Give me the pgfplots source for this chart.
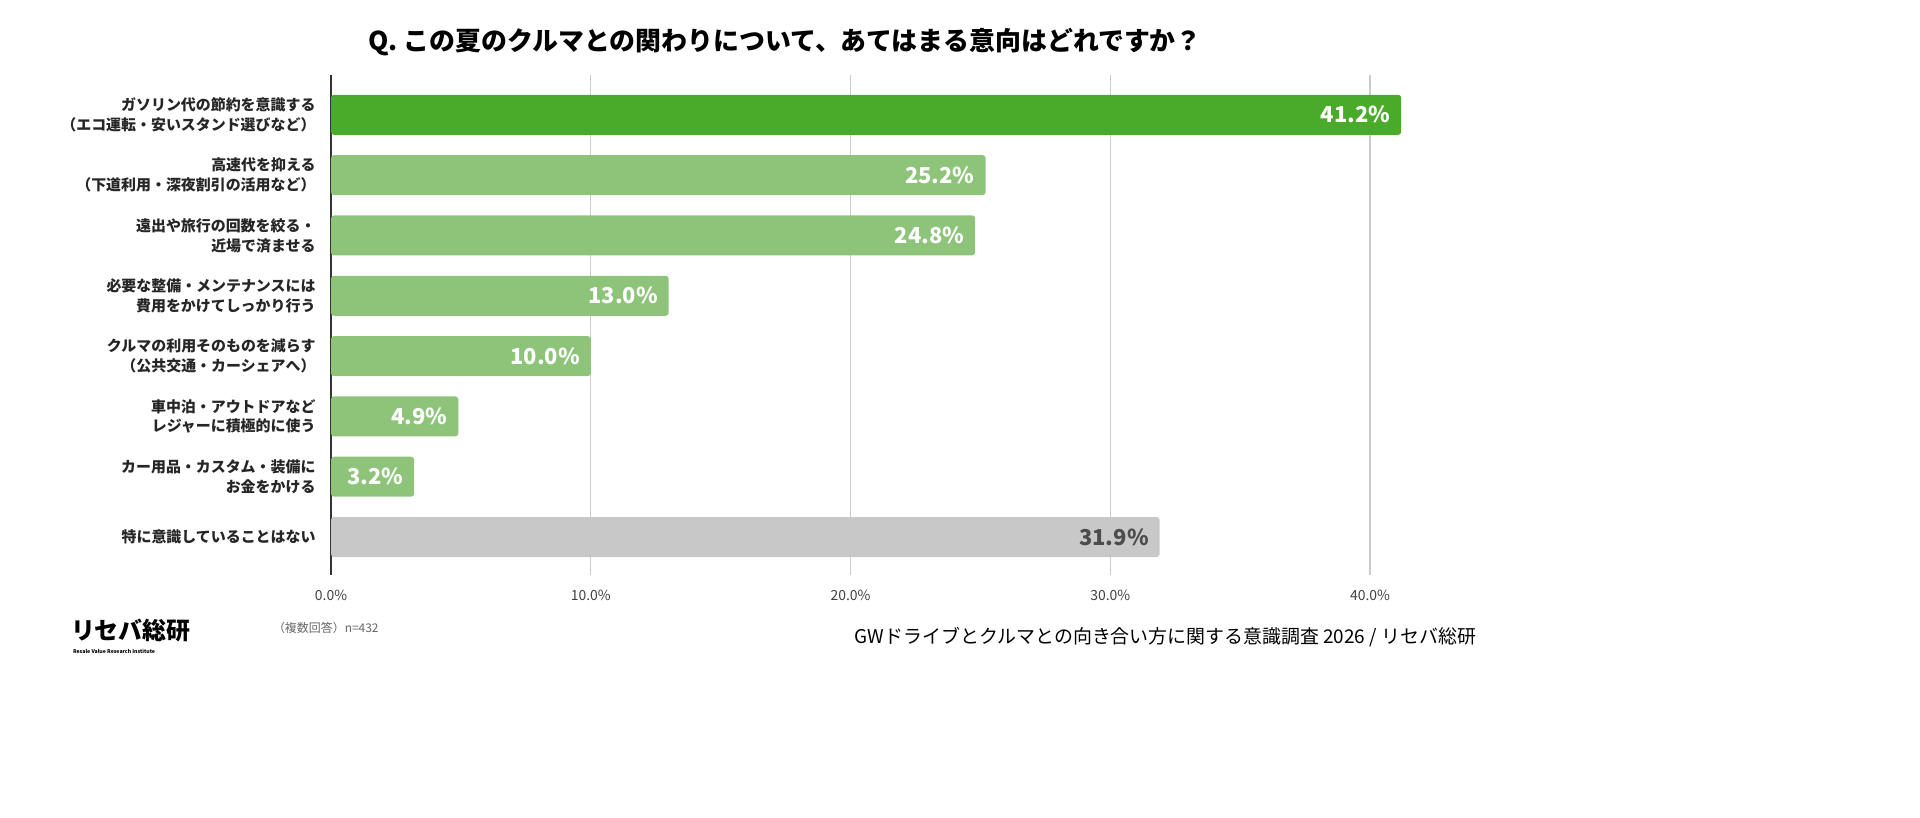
\documentclass[border=0pt]{standalone}
\usepackage{pgfplots}
\pgfplotsset{compat=1.18}
\usepackage{fontspec}
\setmainfont{Noto Sans CJK JP}
\definecolor{topg}{HTML}{4AAA2A}
\definecolor{midg}{HTML}{8EC47A}
\definecolor{grayb}{HTML}{C8C8C8}
\begin{document}
\begin{tikzpicture}[x=1bp,y=1bp]
\useasboundingbox (0,0) rectangle (960,-408.5);
\node[font=\fontsize{13}{15}\selectfont\bfseries] at (392.5,-21) {Q. この夏のクルマとの関わりについて、あてはまる意向はどれですか？};
\begin{axis}[at={(165.5bp,-37.5bp)},anchor=north west,
 scale only axis,width=545.5bp,height=250bp,
 xmin=0,xmax=42,ymin=-0.66,ymax=7.63,y dir=reverse,
 xbar,bar width=20bp,bar shift=0pt,
 axis x line*=bottom, x axis line style={draw=none},
 axis y line*=left, y axis line style={draw=black!80,thick},
 xtick={0,10,20,30,40},xticklabels={0.0\%,10.0\%,20.0\%,30.0\%,40.0\%},
 xmajorgrids,grid style={black!20,line width=0.6bp},
 tick style={draw=none},
 xticklabel style={font=\fontsize{7}{8}\selectfont,text=black!75,yshift=-4bp},
 ytick={0,...,7},
 yticklabels={{ガソリン代の節約を意識する\\（エコ運転・安いスタンド選びなど）},{高速代を抑える\\（下道利用・深夜割引の活用など）},{遠出や旅行の回数を絞る・\\近場で済ませる},{必要な整備・メンテナンスには\\費用をかけてしっかり行う},{クルマの利用そのものを減らす\\（公共交通・カーシェアへ）},{車中泊・アウトドアなど\\レジャーに積極的に使う},{カー用品・カスタム・装備に\\お金をかける},{特に意識していることはない}},
 yticklabel style={font=\fontsize{7.5}{10}\selectfont\bfseries,align=right,text=black!85},
 nodes near coords={\pgfmathprintnumber[fixed,fixed zerofill,precision=1,assume math mode=true]{\pgfplotspointmeta}\%},
 point meta=explicit,
 nodes near coords style={anchor=east,font=\fontsize{11}{12}\selectfont\bfseries,text=white,xshift=-2bp},
]
\addplot[fill=topg,draw=none,rounded corners=1.5bp] coordinates {(41.2,0)[41.2]};
\addplot[fill=midg,draw=none,rounded corners=1.5bp] coordinates {(25.2,1)[25.2] (24.8,2)[24.8] (13.0,3)[13.0] (10.0,4)[10.0] (4.9,5)[4.9] (3.2,6)[3.2]};
\addplot[fill=grayb,draw=none,rounded corners=1.5bp,nodes near coords style={text=black!70}] coordinates {(31.9,7)[31.9]};
\end{axis}
\node[anchor=west,font=\fontsize{6}{7}\selectfont,text=black!60] at (133,-314) {（複数回答）n=432};
\node[anchor=east,font=\fontsize{9.5}{11}\selectfont] at (741.5,-318.5) {GWドライブとクルマとの向き合い方に関する意識調査 2026 / リセバ総研};
\node[anchor=west,font=\fontsize{12}{13}\selectfont\bfseries] at (32,-315) {リセバ総研};
\node[anchor=west,font=\fontsize{2.6}{3}\selectfont\bfseries] at (33,-325.5) {Resale Value Research Institute};
\end{tikzpicture}
\end{document}
